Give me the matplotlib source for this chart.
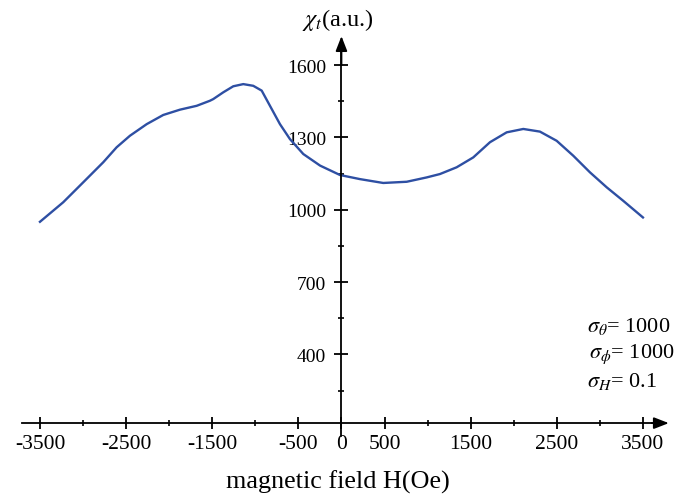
import matplotlib
matplotlib.use("Agg")
import matplotlib.pyplot as plt
from matplotlib.ticker import FixedLocator

plt.rcParams['font.family'] = ['Liberation Serif', 'DejaVu Serif']
plt.rcParams['mathtext.fontset'] = 'stix'
plt.rcParams['axes.unicode_minus'] = False

# data
field = [-3500, -3230, -2997, -2765, -2610, -2455, -2261, -2069, -1875, -1681,
         -1527, -1488, -1372, -1256, -1140, -1024, -926, -830, -714, -598,
         -443, -248, -17, 215, 485, 757, 989, 1143, 1337, 1530, 1724, 1918,
         2111, 2304, 2498, 2691, 2885, 3079, 3271, 3500]
chi = [950, 1031, 1114, 1197, 1259, 1307, 1355, 1393, 1415, 1431,
       1452, 1459, 1487, 1512, 1521, 1514, 1494, 1431, 1355, 1293,
       1231, 1183, 1144, 1127, 1111, 1116, 1134, 1148, 1176, 1217, 1280, 1321,
       1335, 1324, 1286, 1224, 1155, 1093, 1037, 968]

x_major = [-3500, -2500, -1500, -500, 0, 500, 1500, 2500, 3500]
x_labels = ['-3500', '-2500', '-1500', '-500', '0', '500', '1500', '2500', '3500']
x_minor = [-3000, -2000, -1000, 1000, 2000, 3000]
y_major = [400, 700, 1000, 1300, 1600]
y_labels = ['400', '700', '1000', '1300', '1600']
y_minor = [250, 550, 850, 1150, 1450]

x_axis_level = 115

fig = plt.figure(figsize=(6.75, 5.02), dpi=100)
ax = fig.add_axes([0, 0, 1, 1])
ax.set_xlim(-3964, 3872)
ax.set_ylim(-208, 1874)

ax.plot(field, chi, color='#2e4fa3', lw=1.7, solid_joinstyle='round')

for s in ['top', 'right']:
    ax.spines[s].set_visible(False)
ax.spines['left'].set_position(('data', 0))
ax.spines['bottom'].set_position(('data', x_axis_level))
ax.spines['left'].set_bounds(61, 1690)
ax.spines['bottom'].set_bounds(-3709, 3750)
for s in ['left', 'bottom']:
    ax.spines[s].set_linewidth(1.3)

# arrow heads
ax.annotate('', xy=(3800, x_axis_level), xytext=(3600, x_axis_level),
            arrowprops=dict(arrowstyle='-|>,head_length=0.9,head_width=0.35',
                            color='black', lw=1.3, shrinkA=0, shrinkB=0))
ax.annotate('', xy=(0, 1720), xytext=(0, 1600),
            arrowprops=dict(arrowstyle='-|>,head_length=0.9,head_width=0.35',
                            color='black', lw=1.3, shrinkA=0, shrinkB=0))

ax.xaxis.set_major_locator(FixedLocator(x_major))
ax.set_xticklabels(x_labels)
ax.xaxis.set_minor_locator(FixedLocator(x_minor))
ax.yaxis.set_major_locator(FixedLocator(y_major))
ax.set_yticklabels(y_labels)
ax.yaxis.set_minor_locator(FixedLocator(y_minor))

ax.tick_params(axis='x', which='major', direction='inout', length=9, width=1.3,
               labelsize=15.5, pad=3)
ax.tick_params(axis='x', which='minor', direction='inout', length=5, width=1.2)
ax.tick_params(axis='y', which='major', direction='inout', length=10, width=1.3,
               labelsize=14, pad=6)
ax.tick_params(axis='y', which='minor', direction='inout', length=4, width=1.2)

ax.set_xlabel('magnetic field H(Oe)', fontsize=18.8)
ax.xaxis.set_label_coords(0.5, 1 - 482 / 502)
ax.xaxis.label.set_va('center')

ax.set_ylabel(r'$\chi_t$(a.u.)', fontsize=17.5, rotation=0)
ax.yaxis.set_label_coords(338 / 675, 1 - 20 / 502)
ax.yaxis.label.set_va('center')
ax.yaxis.label.set_ha('center')

ax.text(587 / 675, 1 - 327 / 502, r'$\sigma_\theta$= 1000', transform=ax.transAxes,
        fontsize=16, ha='left', va='center')
ax.text(589 / 675, 1 - 354 / 502, r'$\sigma_\phi$= 1000', transform=ax.transAxes,
        fontsize=16, ha='left', va='center')
ax.text(587 / 675, 1 - 382 / 502, r'$\sigma_H$= 0.1', transform=ax.transAxes,
        fontsize=16, ha='left', va='center')

fig.savefig('out.png', dpi=100)
